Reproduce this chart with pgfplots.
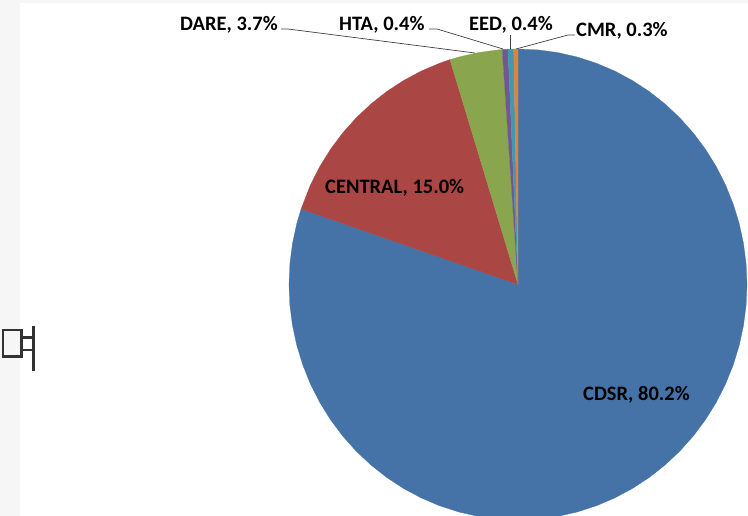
\documentclass[border=0pt]{standalone}
\usepackage{fontspec}
\setmainfont{Carlito}
\usepackage{pgfplots}
\usepackage{pgfplotstable}
\pgfplotsset{compat=1.18}
\definecolor{cA}{HTML}{4572A7}
\definecolor{cB}{HTML}{AA4643}
\definecolor{cC}{HTML}{89A54E}
\definecolor{cD}{HTML}{71588F}
\definecolor{cE}{HTML}{4198AF}
\definecolor{cF}{HTML}{DB843D}
\definecolor{strip}{HTML}{F6F6F6}
\definecolor{leader}{HTML}{404040}
\definecolor{glyph}{HTML}{333333}
\pgfplotstableread[row sep=\\]{
a r\\ 90 0\\
90 1\\ 85 1\\ 80 1\\ 75 1\\ 70 1\\ 65 1\\ 60 1\\ 55 1\\ 50 1\\ 45 1\\ 40 1\\ 35 1\\ 30 1\\ 25 1\\ 20 1\\ 15 1\\ 10 1\\ 5 1\\ 0 1\\
-5 1\\ -10 1\\ -15 1\\ -20 1\\ -25 1\\ -30 1\\ -35 1\\ -40 1\\ -45 1\\ -50 1\\ -55 1\\ -60 1\\ -65 1\\ -70 1\\ -75 1\\ -80 1\\ -85 1\\ -90 1\\
-95 1\\ -100 1\\ -105 1\\ -110 1\\ -115 1\\ -120 1\\ -125 1\\ -130 1\\ -135 1\\ -140 1\\ -145 1\\ -150 1\\ -155 1\\ -160 1\\ -165 1\\ -170 1\\ -175 1\\ -180 1\\
-185 1\\ -190 1\\ -195 1\\ -198.72 1\\
}\cdsr
\pgfplotstableread[row sep=\\]{
a r\\ -198.72 0\\ -198.72 1\\ -205 1\\ -210 1\\ -215 1\\ -220 1\\ -225 1\\ -230 1\\ -235 1\\ -240 1\\ -245 1\\ -250 1\\ -252.72 1\\
}\central
\pgfplotstableread[row sep=\\]{
a r\\ -252.72 0\\ -252.72 1\\ -255 1\\ -260 1\\ -265 1\\ -266.04 1\\
}\dare
\pgfplotstableread[row sep=\\]{
a r\\ -266.04 0\\ -266.04 1\\ -267.48 1\\
}\hta
\pgfplotstableread[row sep=\\]{
a r\\ -267.48 0\\ -267.48 1\\ -268.92 1\\
}\eed
\pgfplotstableread[row sep=\\]{
a r\\ -268.92 0\\ -268.92 1\\ -270 1\\
}\cmr
\pgfplotsset{wedge/.style={line width=0.25pt,draw=#1,fill=#1,forget plot}}
\newcommand{\wedgeplot}[2]{\addplot[wedge=#1] table[x expr={518+229*\thisrow{r}*cos(\thisrow{a})},y expr={231.5+235.5*\thisrow{r}*sin(\thisrow{a})}] {#2} -- cycle;}
\tikzset{lab/.style={anchor=west,inner sep=0pt,text=black,font=\fontsize{20.5}{24}\selectfont\bfseries}}
\begin{document}
\begin{tikzpicture}
\begin{axis}[
  width=748pt,height=516pt,scale only axis,
  xmin=0,xmax=748,ymin=0,ymax=516,
  axis lines=none,
  clip=true,
]
\addplot[fill=strip,draw=none,forget plot] coordinates {(0,0)(20,0)(20,513)(748,513)(748,516)(0,516)} -- cycle;
\wedgeplot{cA}{\cdsr}
\wedgeplot{cB}{\central}
\wedgeplot{cC}{\dare}
\wedgeplot{cD}{\hta}
\wedgeplot{cE}{\eed}
\wedgeplot{cF}{\cmr}
% leader lines
\addplot[leader,line width=0.7pt,forget plot] coordinates {(281,487)(288,487)(475,463)};
\addplot[leader,line width=0.7pt,forget plot] coordinates {(429,487)(437,487)(503,467)};
\addplot[leader,line width=0.7pt,forget plot] coordinates {(510,481)(510,467)};
\addplot[leader,line width=0.7pt,forget plot] coordinates {(575,481)(568,481)(516,467)};
% glyph at the left edge
\addplot[glyph,line width=2.8pt,forget plot] coordinates {(3,186)(21.5,186)(21.5,159.5)(3,159.5)} -- cycle;
\addplot[glyph,line width=2.6pt,forget plot] coordinates {(33.5,190)(33.5,145)};
\addplot[glyph,line width=2.2pt,forget plot] coordinates {(22,178.5)(33,178.5)};
\addplot[glyph,line width=2.2pt,forget plot] coordinates {(22,166)(33,166)};
% labels
\node[lab] at (axis cs:180,490.8) {DARE, 3.7\%};
\node[lab] at (axis cs:339,490.8) {HTA, 0.4\%};
\node[lab] at (axis cs:469,490.8) {EED, 0.4\%};
\node[lab] at (axis cs:576,484.8) {CMR, 0.3\%};
\node[lab] at (axis cs:325,328.5) {CENTRAL, 15.0\%};
\node[lab] at (axis cs:583,121.5) {CDSR, 80.2\%};
\end{axis}
\end{tikzpicture}
\end{document}
